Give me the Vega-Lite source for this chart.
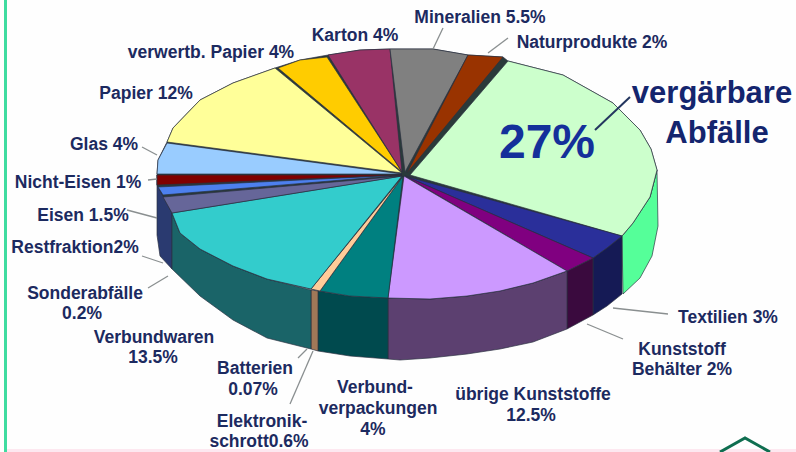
{
"$schema":"https://vega.github.io/schema/vega-lite/v6.json",
"width":796,"height":452,"padding":0,"autosize":{"type":"none"},
"background":"#fefefe","view":{"stroke":null},
"datasets":{
"shapes":[
{"p":"Rand","i":0,"x":157,"y":175},{"p":"Rand","i":1,"x":172,"y":213},{"p":"Rand","i":2,"x":172,"y":269},{"p":"Rand","i":3,"x":160,"y":256},{"p":"Rand","i":4,"x":157,"y":235},
{"p":"vergärbare Seite","i":0,"x":657,"y":170},{"p":"vergärbare Seite","i":1,"x":658,"y":226},{"p":"vergärbare Seite","i":2,"x":652,"y":256},{"p":"vergärbare Seite","i":3,"x":640,"y":278},{"p":"vergärbare Seite","i":4,"x":623,"y":294},{"p":"vergärbare Seite","i":5,"x":622,"y":236},{"p":"vergärbare Seite","i":6,"x":650,"y":197},
{"p":"Textilien Seite","i":0,"x":622,"y":236},{"p":"Textilien Seite","i":1,"x":622,"y":294},{"p":"Textilien Seite","i":2,"x":607,"y":306},{"p":"Textilien Seite","i":3,"x":593,"y":315},{"p":"Textilien Seite","i":4,"x":593,"y":258},
{"p":"Behälter Seite","i":0,"x":593,"y":258},{"p":"Behälter Seite","i":1,"x":593,"y":315},{"p":"Behälter Seite","i":2,"x":567,"y":329},{"p":"Behälter Seite","i":3,"x":567,"y":271},
{"p":"Kunststoffe Seite","i":0,"x":567,"y":271},{"p":"Kunststoffe Seite","i":1,"x":567,"y":329},{"p":"Kunststoffe Seite","i":2,"x":533,"y":342},{"p":"Kunststoffe Seite","i":3,"x":500,"y":349},{"p":"Kunststoffe Seite","i":4,"x":467,"y":354},{"p":"Kunststoffe Seite","i":5,"x":430,"y":358},{"p":"Kunststoffe Seite","i":6,"x":400,"y":360},{"p":"Kunststoffe Seite","i":7,"x":388,"y":359},{"p":"Kunststoffe Seite","i":8,"x":388,"y":298},{"p":"Kunststoffe Seite","i":9,"x":430,"y":299},{"p":"Kunststoffe Seite","i":10,"x":467,"y":296},{"p":"Kunststoffe Seite","i":11,"x":533,"y":283},
{"p":"Verpackungen Seite","i":0,"x":388,"y":298},{"p":"Verpackungen Seite","i":1,"x":388,"y":359},{"p":"Verpackungen Seite","i":2,"x":350,"y":356},{"p":"Verpackungen Seite","i":3,"x":318,"y":351},{"p":"Verpackungen Seite","i":4,"x":318,"y":291},{"p":"Verpackungen Seite","i":5,"x":350,"y":296},
{"p":"Batterien Seite","i":0,"x":311,"y":290},{"p":"Batterien Seite","i":1,"x":318,"y":291},{"p":"Batterien Seite","i":2,"x":318,"y":351},{"p":"Batterien Seite","i":3,"x":311,"y":349},
{"p":"Verbundwaren Seite","i":0,"x":172,"y":213},{"p":"Verbundwaren Seite","i":1,"x":180,"y":233},{"p":"Verbundwaren Seite","i":2,"x":200,"y":249},{"p":"Verbundwaren Seite","i":3,"x":233,"y":266},{"p":"Verbundwaren Seite","i":4,"x":267,"y":279},{"p":"Verbundwaren Seite","i":5,"x":311,"y":290},{"p":"Verbundwaren Seite","i":6,"x":311,"y":349},{"p":"Verbundwaren Seite","i":7,"x":267,"y":338},{"p":"Verbundwaren Seite","i":8,"x":233,"y":320},{"p":"Verbundwaren Seite","i":9,"x":200,"y":296},{"p":"Verbundwaren Seite","i":10,"x":172,"y":269},
{"p":"Unterlage","i":0,"x":508,"y":61},{"p":"Unterlage","i":1,"x":503,"y":57},{"p":"Unterlage","i":2,"x":468,"y":55},{"p":"Unterlage","i":3,"x":433,"y":49},{"p":"Unterlage","i":4,"x":390,"y":49},{"p":"Unterlage","i":5,"x":360,"y":50},{"p":"Unterlage","i":6,"x":328,"y":55},{"p":"Unterlage","i":7,"x":300,"y":60},{"p":"Unterlage","i":8,"x":275,"y":68},{"p":"Unterlage","i":9,"x":233,"y":83},{"p":"Unterlage","i":10,"x":200,"y":100},{"p":"Unterlage","i":11,"x":173,"y":128},{"p":"Unterlage","i":12,"x":167,"y":142},{"p":"Unterlage","i":13,"x":158,"y":160},{"p":"Unterlage","i":14,"x":157,"y":174},{"p":"Unterlage","i":15,"x":157,"y":185},{"p":"Unterlage","i":16,"x":172,"y":213},{"p":"Unterlage","i":17,"x":180,"y":233},{"p":"Unterlage","i":18,"x":200,"y":249},{"p":"Unterlage","i":19,"x":233,"y":266},{"p":"Unterlage","i":20,"x":267,"y":279},{"p":"Unterlage","i":21,"x":311,"y":289},{"p":"Unterlage","i":22,"x":320,"y":291},{"p":"Unterlage","i":23,"x":388,"y":298},{"p":"Unterlage","i":24,"x":430,"y":299},{"p":"Unterlage","i":25,"x":467,"y":296},{"p":"Unterlage","i":26,"x":500,"y":291},{"p":"Unterlage","i":27,"x":533,"y":283},{"p":"Unterlage","i":28,"x":567,"y":271},{"p":"Unterlage","i":29,"x":593,"y":258},{"p":"Unterlage","i":30,"x":607,"y":248},{"p":"Unterlage","i":31,"x":622,"y":236},{"p":"Unterlage","i":32,"x":633,"y":223},{"p":"Unterlage","i":33,"x":650,"y":197},{"p":"Unterlage","i":34,"x":657,"y":170},{"p":"Unterlage","i":35,"x":651,"y":149},{"p":"Unterlage","i":36,"x":640,"y":130},{"p":"Unterlage","i":37,"x":613,"y":103},{"p":"Unterlage","i":38,"x":563,"y":75},
{"p":"vergärbare Abfälle","i":0,"x":410,"y":175},{"p":"vergärbare Abfälle","i":1,"x":508,"y":61},{"p":"vergärbare Abfälle","i":2,"x":563,"y":75},{"p":"vergärbare Abfälle","i":3,"x":613,"y":103},{"p":"vergärbare Abfälle","i":4,"x":640,"y":130},{"p":"vergärbare Abfälle","i":5,"x":651,"y":149},{"p":"vergärbare Abfälle","i":6,"x":657,"y":170},{"p":"vergärbare Abfälle","i":7,"x":650,"y":197},{"p":"vergärbare Abfälle","i":8,"x":633,"y":223},{"p":"vergärbare Abfälle","i":9,"x":622,"y":236},{"p":"vergärbare Abfälle","i":10,"x":410,"y":175},
{"p":"Textilien","i":0,"x":405,"y":176},{"p":"Textilien","i":1,"x":622,"y":236},{"p":"Textilien","i":2,"x":607,"y":248},{"p":"Textilien","i":3,"x":593,"y":258},{"p":"Textilien","i":4,"x":405,"y":176},
{"p":"Kunststoff Behälter","i":0,"x":405,"y":176},{"p":"Kunststoff Behälter","i":1,"x":593,"y":258},{"p":"Kunststoff Behälter","i":2,"x":567,"y":271},{"p":"Kunststoff Behälter","i":3,"x":405,"y":176},
{"p":"übrige Kunststoffe","i":0,"x":404,"y":176},{"p":"übrige Kunststoffe","i":1,"x":567,"y":271},{"p":"übrige Kunststoffe","i":2,"x":533,"y":283},{"p":"übrige Kunststoffe","i":3,"x":500,"y":291},{"p":"übrige Kunststoffe","i":4,"x":467,"y":296},{"p":"übrige Kunststoffe","i":5,"x":430,"y":299},{"p":"übrige Kunststoffe","i":6,"x":388,"y":298},{"p":"übrige Kunststoffe","i":7,"x":404,"y":176},
{"p":"Verbundverpackungen","i":0,"x":403,"y":176},{"p":"Verbundverpackungen","i":1,"x":388,"y":298},{"p":"Verbundverpackungen","i":2,"x":350,"y":296},{"p":"Verbundverpackungen","i":3,"x":320,"y":291},{"p":"Verbundverpackungen","i":4,"x":403,"y":176},
{"p":"Batterien","i":0,"x":403,"y":176},{"p":"Batterien","i":1,"x":320,"y":291},{"p":"Batterien","i":2,"x":311,"y":289},{"p":"Batterien","i":3,"x":403,"y":176},
{"p":"Verbundwaren","i":0,"x":402,"y":176},{"p":"Verbundwaren","i":1,"x":311,"y":289},{"p":"Verbundwaren","i":2,"x":267,"y":279},{"p":"Verbundwaren","i":3,"x":233,"y":266},{"p":"Verbundwaren","i":4,"x":200,"y":249},{"p":"Verbundwaren","i":5,"x":180,"y":233},{"p":"Verbundwaren","i":6,"x":172,"y":213},{"p":"Verbundwaren","i":7,"x":402,"y":176},
{"p":"Restfraktion","i":0,"x":402,"y":176},{"p":"Restfraktion","i":1,"x":172,"y":213},{"p":"Restfraktion","i":2,"x":163,"y":197},{"p":"Restfraktion","i":3,"x":402,"y":176},
{"p":"Eisen","i":0,"x":402,"y":175},{"p":"Eisen","i":1,"x":163,"y":195},{"p":"Eisen","i":2,"x":158,"y":187},{"p":"Eisen","i":3,"x":402,"y":175},
{"p":"Nicht-Eisen","i":0,"x":402,"y":175},{"p":"Nicht-Eisen","i":1,"x":157,"y":185},{"p":"Nicht-Eisen","i":2,"x":157,"y":175},{"p":"Nicht-Eisen","i":3,"x":402,"y":175},
{"p":"Glas","i":0,"x":402,"y":174},{"p":"Glas","i":1,"x":157,"y":174},{"p":"Glas","i":2,"x":158,"y":160},{"p":"Glas","i":3,"x":167,"y":143},{"p":"Glas","i":4,"x":402,"y":174},
{"p":"Papier","i":0,"x":402,"y":173},{"p":"Papier","i":1,"x":167,"y":142},{"p":"Papier","i":2,"x":173,"y":128},{"p":"Papier","i":3,"x":200,"y":100},{"p":"Papier","i":4,"x":233,"y":83},{"p":"Papier","i":5,"x":275,"y":68},{"p":"Papier","i":6,"x":402,"y":173},
{"p":"verwertb. Papier","i":0,"x":402,"y":172},{"p":"verwertb. Papier","i":1,"x":278,"y":68},{"p":"verwertb. Papier","i":2,"x":300,"y":60},{"p":"verwertb. Papier","i":3,"x":327,"y":57},{"p":"verwertb. Papier","i":4,"x":402,"y":172},
{"p":"Karton","i":0,"x":402,"y":172},{"p":"Karton","i":1,"x":328,"y":55},{"p":"Karton","i":2,"x":360,"y":50},{"p":"Karton","i":3,"x":390,"y":49},{"p":"Karton","i":4,"x":402,"y":172},
{"p":"Mineralien","i":0,"x":405,"y":172},{"p":"Mineralien","i":1,"x":390,"y":49},{"p":"Mineralien","i":2,"x":433,"y":49},{"p":"Mineralien","i":3,"x":468,"y":55},{"p":"Mineralien","i":4,"x":405,"y":172},
{"p":"Naturprodukte","i":0,"x":407,"y":173},{"p":"Naturprodukte","i":1,"x":468,"y":55},{"p":"Naturprodukte","i":2,"x":503,"y":57},{"p":"Naturprodukte","i":3,"x":407,"y":173}
],
"leaders":[
{"k":"Mineralien","i":0,"x":443,"y":28},{"k":"Mineralien","i":1,"x":433,"y":49},
{"k":"Naturprodukte","i":0,"x":508,"y":38},{"k":"Naturprodukte","i":1,"x":488,"y":53},
{"k":"Glas","i":0,"x":142,"y":147},{"k":"Glas","i":1,"x":157,"y":155},
{"k":"Nicht-Eisen","i":0,"x":148,"y":180},{"k":"Nicht-Eisen","i":1,"x":157,"y":179},
{"k":"Eisen","i":0,"x":127,"y":210},{"k":"Eisen","i":1,"x":157,"y":218},
{"k":"Restfraktion","i":0,"x":142,"y":256},{"k":"Restfraktion","i":1,"x":163,"y":263},
{"k":"Sonderabfälle","i":0,"x":148,"y":288},{"k":"Sonderabfälle","i":1,"x":168,"y":276},
{"k":"Batterien","i":0,"x":298,"y":358},{"k":"Batterien","i":1,"x":307,"y":349},
{"k":"Elektronik","i":0,"x":290,"y":404},{"k":"Elektronik","i":1,"x":313,"y":351},
{"k":"Textilien","i":0,"x":668,"y":314},{"k":"Textilien","i":1,"x":613,"y":308},
{"k":"Behälter","i":0,"x":623,"y":339},{"k":"Behälter","i":1,"x":587,"y":324}
],
"labels":[
{"t":"Mineralien 5.5%","x":480,"y":18},{"t":"Naturprodukte 2%","x":592,"y":43},{"t":"Karton 4%","x":355,"y":36},{"t":"verwertb. Papier 4%","x":211,"y":53},{"t":"Papier 12%","x":146,"y":94},{"t":"Glas 4%","x":104,"y":145},{"t":"Nicht-Eisen 1%","x":78,"y":183},{"t":"Eisen 1.5%","x":83,"y":216},{"t":"Restfraktion2%","x":75,"y":248},{"t":"Sonderabfälle","x":85,"y":294},{"t":"0.2%","x":82,"y":314},{"t":"Verbundwaren","x":154,"y":338},{"t":"13.5%","x":153,"y":358},{"t":"Batterien","x":255,"y":369},{"t":"0.07%","x":253,"y":390},{"t":"Elektronik-","x":262,"y":422},{"t":"schrott0.6%","x":259,"y":442},{"t":"Verbund-","x":375,"y":388},{"t":"verpackungen","x":378,"y":409},{"t":"4%","x":373,"y":430},{"t":"übrige Kunststoffe","x":533,"y":395},{"t":"12.5%","x":531,"y":416},{"t":"Kunststoff","x":682,"y":350},{"t":"Behälter 2%","x":682,"y":370},{"t":"Textilien 3%","x":728,"y":318}
],
"big":[{"t":"vergärbare","x":712,"y":94,"s":"m"},{"t":"Abfälle","x":717,"y":134,"s":"m"},{"t":"27%","x":547,"y":144,"s":"l"}]
},
"layer":[
{"data":{"name":"shapes"},
 "mark":{"type":"line","filled":true,"stroke":"#2a3040","strokeWidth":0.9,"strokeOpacity":0.75,"interpolate":"linear-closed"},
 "encoding":{
  "x":{"field":"x","type":"quantitative","scale":{"domain":[0,796],"nice":false,"zero":false},"axis":null},
  "y":{"field":"y","type":"quantitative","scale":{"domain":[452,0],"nice":false,"zero":false},"axis":null},
  "order":{"field":"i","type":"ordinal"},
  "detail":{"field":"p"},
  "color":{"field":"p","type":"nominal","legend":null,"sort":null,"scale":{
   "domain":["Rand","vergärbare Seite","Textilien Seite","Behälter Seite","Kunststoffe Seite","Verpackungen Seite","Batterien Seite","Verbundwaren Seite","Unterlage","vergärbare Abfälle","Textilien","Kunststoff Behälter","übrige Kunststoffe","Verbundverpackungen","Batterien","Verbundwaren","Restfraktion","Eisen","Nicht-Eisen","Glas","Papier","verwertb. Papier","Karton","Mineralien","Naturprodukte"],
   "range":["#2a3a70","#55ff99","#151a55","#3a0a3e","#5c4070","#004a4e","#a07858","#1a6468","#2a3a3a","#ccffcc","#2a2f9a","#800080","#cc99ff","#008080","#ffcc99","#33cccc","#666699","#4d80ee","#800000","#99ccff","#ffff99","#ffcc00","#993366","#808080","#993300"]}}
 }},
{"data":{"name":"leaders"},
 "mark":{"type":"line","stroke":"#8a8f90","strokeWidth":1.3},
 "encoding":{"x":{"field":"x","type":"quantitative"},"y":{"field":"y","type":"quantitative"},"order":{"field":"i","type":"ordinal"},"detail":{"field":"k"}}},
{"data":{"values":[{"k":"vergärbare","i":0,"x":630,"y":97},{"k":"vergärbare","i":1,"x":595,"y":130}]},
 "mark":{"type":"line","stroke":"#24365f","strokeWidth":2},
 "encoding":{"x":{"field":"x","type":"quantitative"},"y":{"field":"y","type":"quantitative"},"order":{"field":"i","type":"ordinal"}}},
{"data":{"name":"labels"},
 "mark":{"type":"text","font":"Liberation Sans","fontWeight":"bold","fontSize":17.5,"fill":"#1c2a60","align":"center","baseline":"middle"},
 "encoding":{"x":{"field":"x","type":"quantitative"},"y":{"field":"y","type":"quantitative"},"text":{"field":"t"}}},
{"data":{"name":"big"},"transform":[{"filter":"datum.s=='m'"}],
 "mark":{"type":"text","font":"Liberation Sans","fontWeight":"bold","fontSize":31,"fill":"#14256e","align":"center","baseline":"middle"},
 "encoding":{"x":{"field":"x","type":"quantitative"},"y":{"field":"y","type":"quantitative"},"text":{"field":"t"}}},
{"data":{"name":"big"},"transform":[{"filter":"datum.s=='l'"}],
 "mark":{"type":"text","font":"Liberation Sans","fontWeight":"bold","fontSize":48,"fill":"#14309a","align":"center","baseline":"middle"},
 "encoding":{"x":{"field":"x","type":"quantitative"},"y":{"field":"y","type":"quantitative"},"text":{"field":"t"}}},
{"data":{"values":[{"i":0,"x":5.5,"y":0},{"i":1,"x":5.5,"y":452}]},
 "mark":{"type":"line","stroke":"#3fdca0","strokeWidth":3},
 "encoding":{"x":{"field":"x","type":"quantitative"},"y":{"field":"y","type":"quantitative"},"order":{"field":"i","type":"ordinal"}}},
{"data":{"values":[{"i":0,"x":7,"y":450.5},{"i":1,"x":796,"y":450.5}]},
 "mark":{"type":"line","stroke":"#fde8f0","strokeWidth":3},
 "encoding":{"x":{"field":"x","type":"quantitative"},"y":{"field":"y","type":"quantitative"},"order":{"field":"i","type":"ordinal"}}},
{"data":{"values":[{"i":0,"x":720,"y":452},{"i":1,"x":745,"y":438},{"i":2,"x":770,"y":452}]},
 "mark":{"type":"line","stroke":"#0f6e50","strokeWidth":3},
 "encoding":{"x":{"field":"x","type":"quantitative"},"y":{"field":"y","type":"quantitative"},"order":{"field":"i","type":"ordinal"}}}
]
}
